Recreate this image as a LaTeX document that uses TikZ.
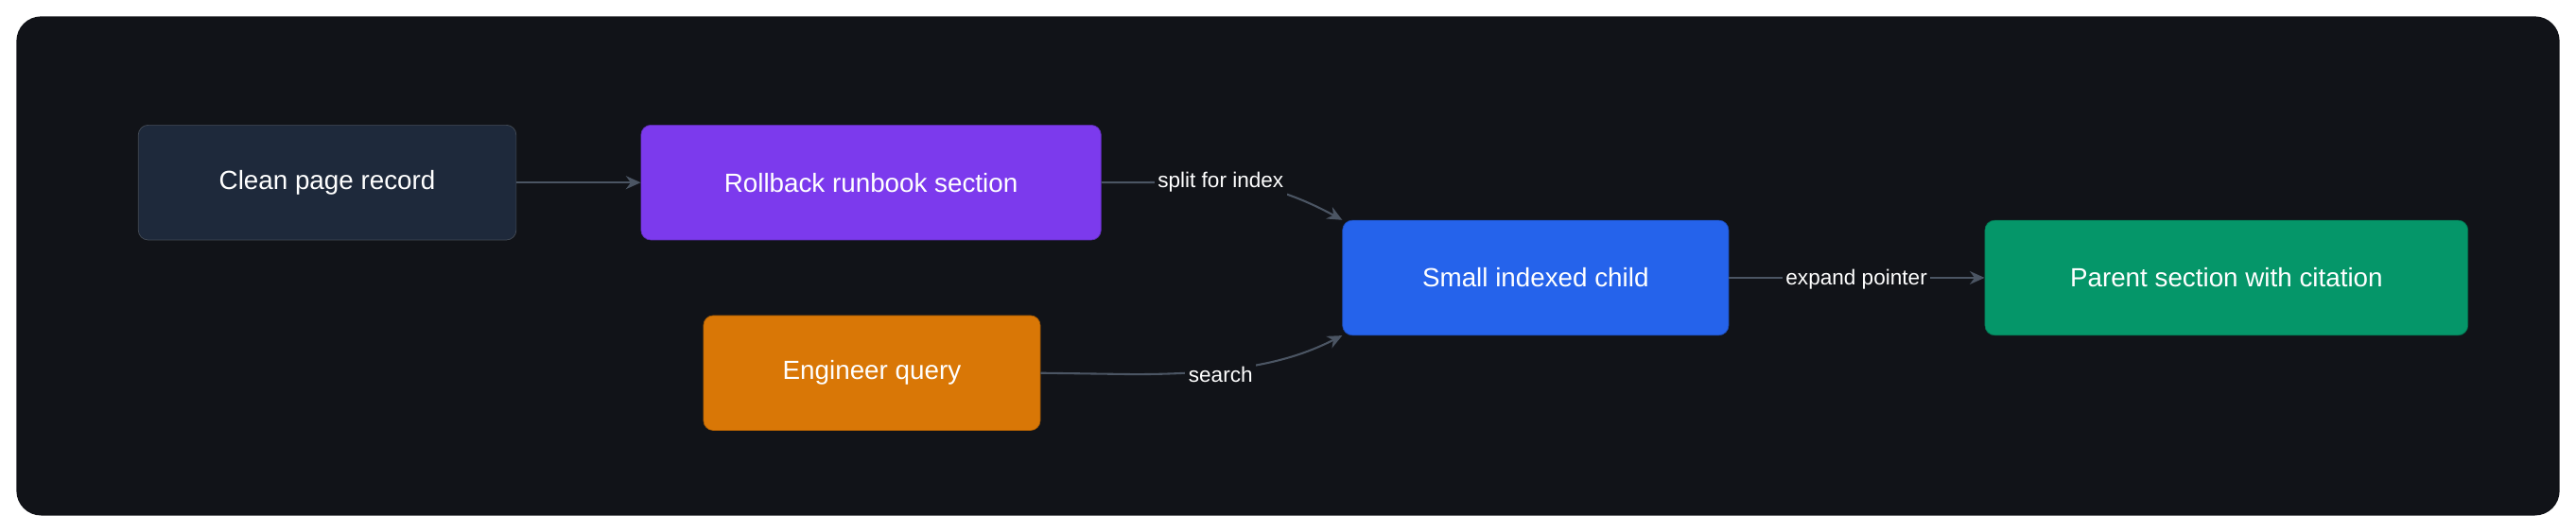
\documentclass[tikz,border=0pt]{standalone}
\usepackage{fontspec}
\setmainfont{Liberation Sans}
\usetikzlibrary{arrows.meta}
\definecolor{bg}{HTML}{111318}
\definecolor{edge}{HTML}{4B5563}
\begin{document}
\begin{tikzpicture}[x=1pt,y=-1pt,
  box/.style={draw=#1!75!black,fill=#1,rounded corners=6pt,text=white,font=\fontsize{16}{18}\selectfont,inner sep=0pt,anchor=north west},
  lbl/.style={fill=bg,text=white,font=\fontsize{13}{15}\selectfont,inner sep=2pt},
  conn/.style={draw=edge,line width=1.2pt,-{Stealth[length=9pt,width=8pt]}}]
\useasboundingbox (0,0) rectangle (1568,324);
\fill[white] (0,0) rectangle (1568,324);
\fill[bg,rounded corners=15pt] (10,10) rectangle (1558,314);
\definecolor{c1}{HTML}{1E293B}\definecolor{c2}{HTML}{7C3AED}\definecolor{c3}{HTML}{D97706}
\definecolor{c4}{HTML}{2563EB}\definecolor{c5}{HTML}{059669}
\node[box=c1,draw=c1!60!gray,minimum width=230pt,minimum height=70pt] (clean) at (84,76) {Clean page record};
\node[box=c2,minimum width=280pt,minimum height=70pt] (roll) at (390,76) {Rollback runbook section};
\node[box=c3,minimum width=205pt,minimum height=70pt] (eng) at (428,192) {Engineer query};
\node[box=c4,minimum width=235pt,minimum height=70pt] (child) at (817,134) {Small indexed child};
\node[box=c5,minimum width=294pt,minimum height=70pt] (par) at (1208,134) {Parent section with citation};
\coordinate (a1) at (743,111);
\coordinate (a2) at (743,228);
\coordinate (a3) at (1130,170);
\draw[conn] (clean.east) -- (roll.west);
\draw[conn] (roll.east) -- (a1) .. controls (770,111) and (795,122) .. (child.north west);
\draw[conn] (eng.east) -- (690,228) .. controls (760,228) and (790,218) .. (child.south west);
\draw[conn] (child.east) -- (par.west);
\node[lbl] (l1) at (a1) {split for index};
\node[lbl] (l2) at (a2) {search};
\node[lbl] (l3) at (a3) {expand pointer};
\end{tikzpicture}
\end{document}
